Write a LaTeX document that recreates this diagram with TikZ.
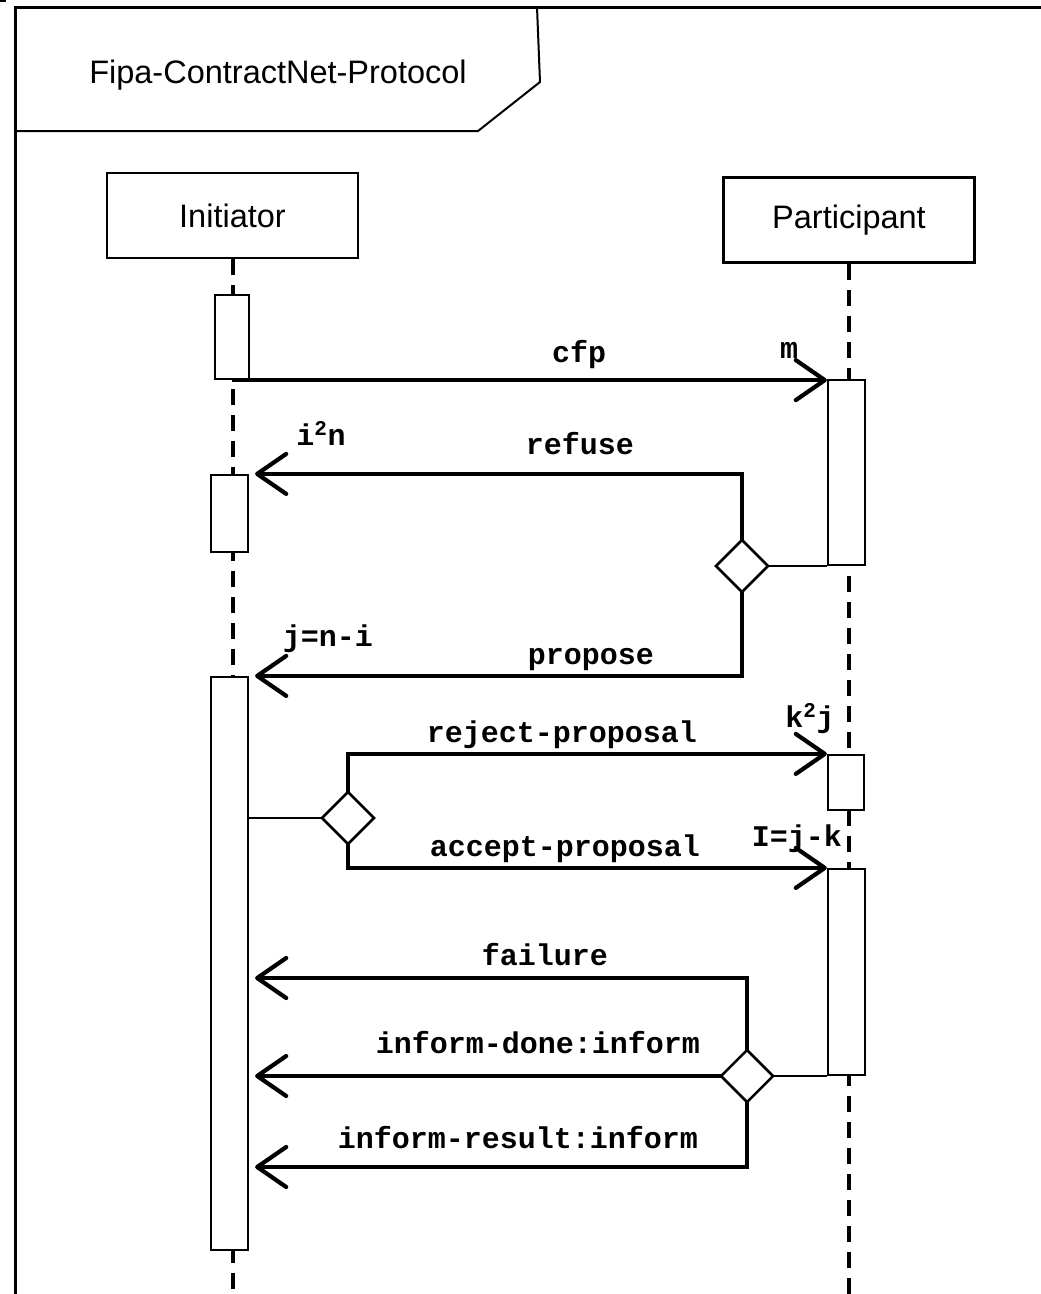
\documentclass[tikz,border=0pt]{standalone}
\usepackage{fontspec}
\setmainfont{Liberation Sans}
\newfontfamily\msgfont{Liberation Mono}
\usetikzlibrary{arrows.meta,shapes.geometric}
\begin{document}
\begin{tikzpicture}[x=1pt,y=-1pt,
  lifebox/.style={draw, line width=2.5pt, fill=white, minimum width=251pt,
    minimum height=85pt, inner sep=0pt, font=\fontsize{32.5}{38}\selectfont},
  act/.style={draw, line width=2.2pt, fill=white, inner sep=0pt},
  lifeline/.style={line width=4pt, dash pattern=on 16pt off 10pt},
  msg/.style={line width=4.2pt, line cap=butt,
    -{Straight Barb[length=29pt,width=40pt,round]}},
  back/.style={msg, shorten >=6pt},
  choice/.style={draw, diamond, line width=2.5pt, fill=white, minimum width=52pt,
    minimum height=52pt, inner sep=0pt, outer sep=0pt},
  tie/.style={line width=2pt},
  lbl/.style={anchor=base, inner sep=0pt,
    font=\msgfont\bfseries\fontsize{30}{36}\selectfont},
]
\useasboundingbox (0,0) rectangle (1041,1294);
\fill[white] (0,0) rectangle (1041,1294);

% outer frame and name tab
\coordinate (bottom) at (0,1294);
\fill (0,0) rectangle (6,2);
\draw[line width=3pt] (15,1294) -- (15,7) -- (1041,7);
\draw[line width=2pt] (15,131) -- (478,131) -- (540,82) -- (537,7);
\node[anchor=base, inner sep=0pt, font=\fontsize{32.5}{38}\selectfont] (title)
  at (278,83) {Fipa-ContractNet-Protocol};

% roles
\node[lifebox] (init) at (232.5,215.5) {Initiator};
\node[lifebox] (part) at (849,220) {Participant};

% lifelines
\draw[lifeline] (init.south) -- (init.south |- bottom);
\draw[lifeline] (part.south) -- (part.south |- bottom);

% activations
\node[act, minimum width=34pt, minimum height=84pt]  (ia1) at (232,337) {};
\node[act, minimum width=37pt, minimum height=77pt]  (ia2) at (229.5,513.5) {};
\node[act, minimum width=37pt, minimum height=573pt] (ia3) at (229.5,963.5) {};
\node[act, minimum width=37pt, minimum height=185pt] (pa1) at (846.5,472.5) {};
\node[act, minimum width=36pt, minimum height=55pt]  (pa2) at (846,782.5) {};
\node[act, minimum width=37pt, minimum height=206pt] (pa3) at (846.5,972) {};

% decision points
\node[choice] (d1) at (742,566) {};
\node[choice] (d2) at (348,818) {};
\node[choice] (d3) at (747,1076) {};

\coordinate (failY) at (0,978);
\coordinate (resY) at (0,1167);

% messages
\draw[msg] (ia1.south) -- (ia1.south -| pa1.west);
\draw[tie] (d1.east) -- (d1.east -| pa1.west);
\draw[back] (d1.north) |- (ia2.north east);
\draw[back] (d1.south) |- (ia3.north east);
\draw[tie] (ia3.east |- d2) -- (d2.west);
\draw[msg] (d2.north) |- (pa2.north west);
\draw[msg] (d2.south) |- (pa3.north west);
\draw[tie] (d3.east) -- (d3.east -| pa3.west);
\draw[back] (d3.north) |- (ia3.east |- failY);
\draw[back] (d3.west) -- (d3.west -| ia3.east);
\draw[back] (d3.south) |- (ia3.east |- resY);

% message labels
\node[lbl] (lcfp)     at (579,362)  {cfp};
\node[lbl] (lm)       at (789,358)  {m};
\node[lbl] (lrefuse)  at (580,454)  {refuse};
\node[lbl] (lin)      at (321,445)  {i\textsuperscript{2}n};
\node[lbl] (lpropose) at (591,664)  {propose};
\node[lbl] (ljni)     at (328,646)  {j=n-i};
\node[lbl] (lreject)  at (562,742)  {reject-proposal};
\node[lbl] (lkj)      at (810,727)  {k\textsuperscript{2}j};
\node[lbl] (laccept)  at (565,856)  {accept-proposal};
\node[lbl] (lijk)     at (797,846)  {I=j-k};
\node[lbl] (lfail)    at (545,965)  {failure};
\node[lbl] (ldone)    at (538,1053) {inform-done:inform};
\node[lbl] (lresult)  at (518,1148) {inform-result:inform};
\end{tikzpicture}
\end{document}
